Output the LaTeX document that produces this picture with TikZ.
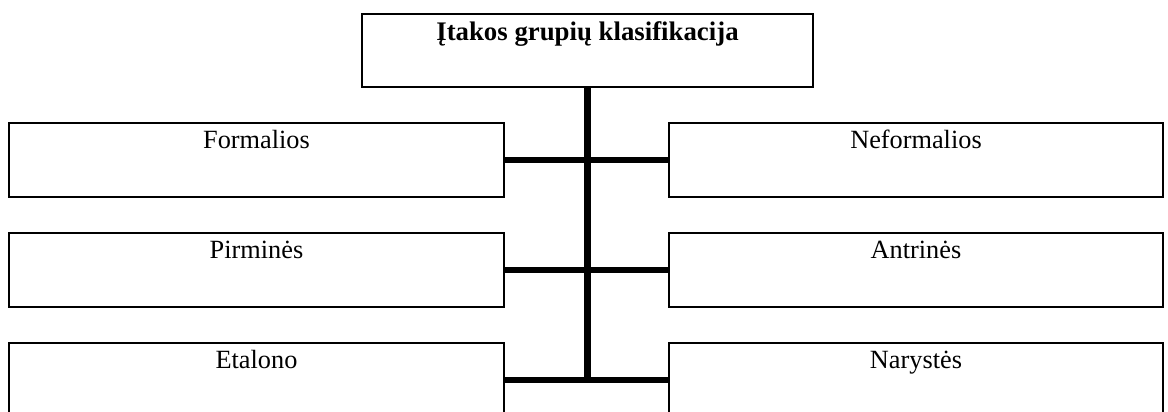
\documentclass[tikz,border=0pt]{standalone}
\usepackage{fontspec}
\setmainfont{Liberation Serif}
\begin{document}
\begin{tikzpicture}[x=1pt,y=-1pt,
  box/.style={draw, line width=1.6pt, inner sep=0pt, minimum height=74pt},
  conn/.style={line width=5.5pt},
  trunk/.style={line width=6.5pt},
  lbl/.style={font=\fontsize{26.3}{31}\selectfont, anchor=base, inner sep=0pt}]
\useasboundingbox (0,0) rectangle (1168,412);
\clip (0,0) rectangle (1168,412);
\node[box, minimum width=451pt, minimum height=73pt] (top) at (587.5,50.5) {};
\node[lbl, font=\fontsize{26.8}{31}\selectfont\bfseries] at ([yshift=-27pt]top.north) {Įtakos grupių klasifikacija};
\node[box, minimum width=495pt] (L1) at (256.5,160) {};
\node[box, minimum width=495pt] (L2) at (256.5,270) {};
\node[box, minimum width=495pt] (L3) at (256.5,380) {};
\node[box, minimum width=494pt] (R1) at (916,160) {};
\node[box, minimum width=494pt] (R2) at (916,270) {};
\node[box, minimum width=494pt] (R3) at (916,380) {};
\node[lbl] at ([yshift=-26pt]L1.north) {Formalios};
\node[lbl] at ([yshift=-26pt]L2.north) {Pirminės};
\node[lbl] at ([yshift=-26pt]L3.north) {Etalono};
\node[lbl] at ([yshift=-26pt]R1.north) {Neformalios};
\node[lbl] at ([yshift=-26pt]R2.north) {Antrinės};
\node[lbl] at ([yshift=-26pt]R3.north) {Narystės};
\draw[conn] (L1.east) -- (R1.west);
\draw[conn] (L2.east) -- (R2.west);
\draw[conn] (L3.east) -- (R3.west);
\draw[trunk] (top.south) -- (top.south |- L3.east);
\end{tikzpicture}
\end{document}
